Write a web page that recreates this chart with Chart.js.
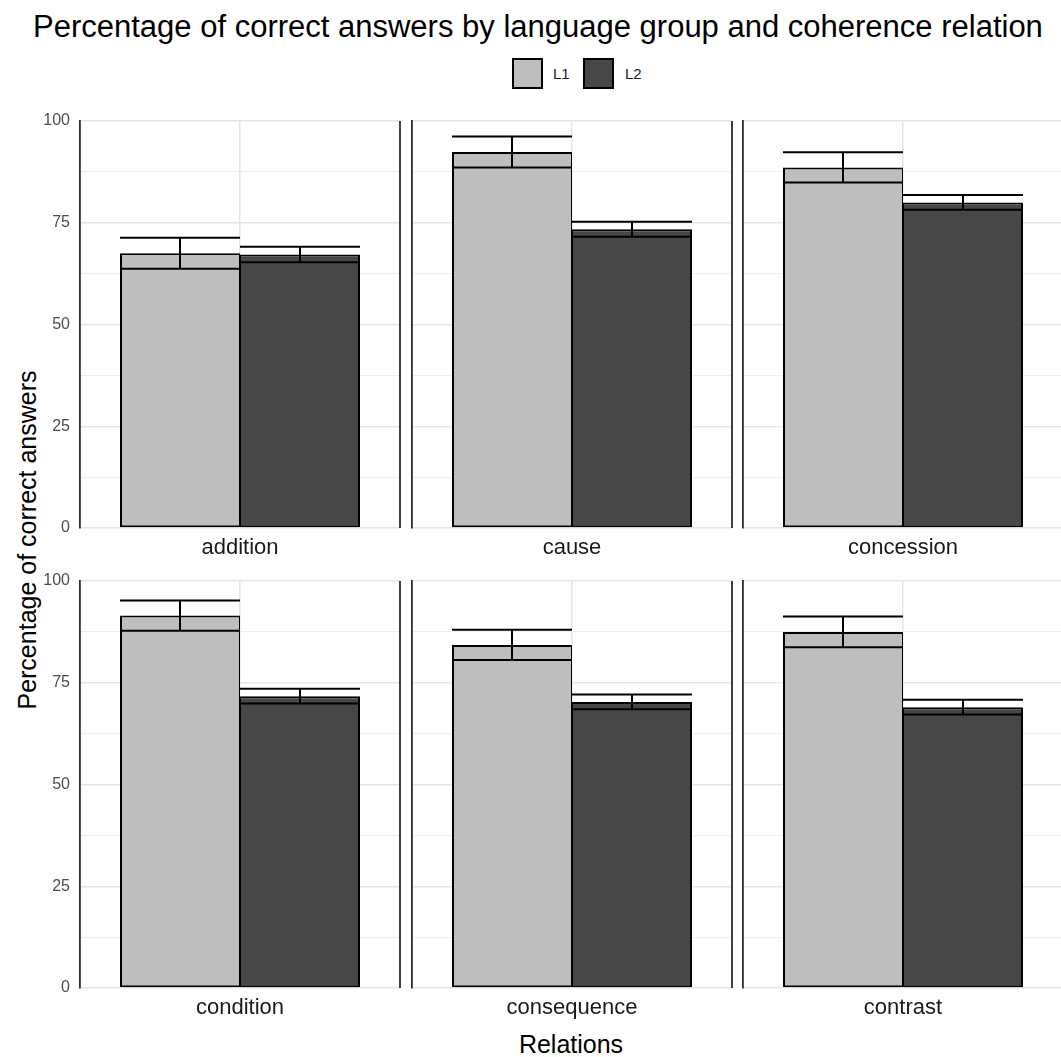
<!DOCTYPE html>
<html>
<head>
<meta charset="utf-8">
<script src="https://cdn.jsdelivr.net/npm/chart.js@4/dist/chart.umd.min.js"></script>
<style>
  html, body { margin: 0; padding: 0; background: #fff; }
  body { width: 1061px; height: 1057px; position: relative; overflow: hidden; font-family: "Liberation Sans", Arial, sans-serif; }
  canvas { position: absolute; }
  .txt { position: absolute; white-space: nowrap; color: #000; }
  .legbox { position: absolute; box-sizing: border-box; border: 2px solid #000; }
</style>
</head>
<body>
<div id="title" class="txt" style="left:33px; width:1000px; top:11px; font-size:31px; line-height:31px; text-align:center;">Percentage of correct answers by language group and coherence relation</div>

<div class="legbox" style="left:512px; top:58px; width:31px; height:31px; background:#bebebe;"></div>
<div class="txt" style="left:553px; top:65px; font-size:15px; line-height:17px; color:#1a1a1a;">L1</div>
<div class="legbox" style="left:583px; top:58px; width:31px; height:31px; background:#474747;"></div>
<div class="txt" style="left:625px; top:65px; font-size:15px; line-height:17px; color:#1a1a1a;">L2</div>

<div class="txt" style="left:27px; top:540px; font-size:25px; line-height:25px; transform: translate(-50%,-50%) rotate(-90deg);">Percentage of correct answers</div>
<div class="txt" style="left:571px; top:1044px; font-size:25px; line-height:25px; transform: translate(-50%,-50%);">Relations</div>

<script>
// ---- data ----
const relations = ['addition', 'cause', 'concession', 'condition', 'consequence', 'contrast'];
const groups = ['L1', 'L2'];
const l1Mean = [67.5, 92.4, 88.6, 91.5, 84.3, 87.5];
const l1Se   = [3.8, 3.8, 3.7, 3.7, 3.7, 3.8];
const l2Mean = [67.2, 73.4, 80.0, 71.7, 70.3, 69.0];
const l2Se   = [1.9, 1.85, 1.8, 1.8, 1.8, 1.8];
const yMajorTicks = [0, 25, 50, 75, 100];
const yMinorTicks = [12.5, 37.5, 62.5, 87.5];

// ---- layout ----
const panelLefts = [80, 412, 743];
const rowTops = [121, 581];
const panelW = 320, panelH = 407;
const yAxisW = 45, xAxisH = 40, padTop = 14, padRight = 4;
const colors = ['#bebebe', '#474747'];

const errorBarPlugin = {
  id: 'errorBars',
  afterDatasetsDraw(chart) {
    const ctx = chart.ctx;
    const ys = chart.scales.y;
    ctx.save();
    ctx.strokeStyle = '#000';
    ctx.lineWidth = 2;
    chart.data.datasets.forEach((ds, i) => {
      const meta = chart.getDatasetMeta(i);
      meta.data.forEach((bar, j) => {
        const m = ds.data[j], e = ds.errors[j];
        const half = bar.width / 2;
        const yHi = ys.getPixelForValue(m + e);
        const yLo = ys.getPixelForValue(m - e);
        ctx.beginPath();
        ctx.moveTo(bar.x - half, yHi); ctx.lineTo(bar.x + half, yHi);
        ctx.moveTo(bar.x - half, yLo); ctx.lineTo(bar.x + half, yLo);
        ctx.moveTo(bar.x, yHi); ctx.lineTo(bar.x, yLo);
        ctx.stroke();
      });
    });
    ctx.restore();
  },
  afterDraw(chart) {
    const a = chart.chartArea;
    const ctx = chart.ctx;
    ctx.save();
    ctx.strokeStyle = '#2b2b2b';
    ctx.lineWidth = 1.8;
    ctx.beginPath();
    ctx.moveTo(a.right, chart.scales.y.getPixelForValue(100));
    ctx.lineTo(a.right, chart.scales.y.getPixelForValue(0));
    ctx.stroke();
    ctx.restore();
  }
};

relations.forEach((rel, idx) => {
  const row = Math.floor(idx / 3), col = idx % 3;
  const cv = document.createElement('canvas');
  const w = yAxisW + panelW + padRight, h = padTop + panelH + xAxisH;
  cv.width = w; cv.height = h;
  cv.style.width = w + 'px'; cv.style.height = h + 'px';
  cv.style.left = (panelLefts[col] - yAxisW) + 'px';
  cv.style.top = (rowTops[row] - padTop) + 'px';
  document.body.appendChild(cv);
  const isLeft = col === 0;
  new Chart(cv, {
    type: 'bar',
    data: {
      labels: [rel],
      datasets: [
        { label: groups[0], data: [l1Mean[idx]], errors: [l1Se[idx]], backgroundColor: colors[0],
          borderColor: '#000', borderWidth: { top: 2, bottom: 2, left: 2, right: 1 }, borderSkipped: false,
          categoryPercentage: 0.75, barPercentage: 1.0 },
        { label: groups[1], data: [l2Mean[idx]], errors: [l2Se[idx]], backgroundColor: colors[1],
          borderColor: '#000', borderWidth: { top: 2, bottom: 2, left: 1, right: 2 }, borderSkipped: false,
          categoryPercentage: 0.75, barPercentage: 1.0 }
      ]
    },
    options: {
      responsive: false,
      animation: false,
      devicePixelRatio: 1,
      layout: { autoPadding: false, padding: { top: padTop, right: padRight, left: 0, bottom: 0 } },
      plugins: { legend: { display: false }, title: { display: false }, tooltip: { enabled: false } },
      scales: {
        x: {
          type: 'category',
          offset: true,
          grid: { offset: false, color: '#e6e6e6', lineWidth: 1.5, drawTicks: false },
          border: { display: false },
          ticks: { color: '#1a1a1a', font: { family: 'Liberation Sans', size: 22 }, padding: 7 },
          afterFit(s) { s.height = xAxisH; s.paddingLeft = 0; s.paddingRight = 0; }
        },
        y: {
          min: 0, max: 100,
          afterBuildTicks(s) {
            s.ticks = yMajorTicks.concat(yMinorTicks).sort((a, b) => a - b).map(v => ({ value: v }));
          },
          grid: {
            drawTicks: false,
            color: (c) => (c.tick && yMajorTicks.includes(c.tick.value)) ? '#e6e6e6' : '#eeeeee',
            lineWidth: (c) => (c.tick && yMajorTicks.includes(c.tick.value)) ? 1.5 : 1
          },
          border: { display: true, color: '#2b2b2b', width: 1.8 },
          ticks: {
            display: isLeft,
            color: '#4d4d4d',
            font: { family: 'Liberation Sans', size: 16 },
            padding: 10,
            callback: (v) => yMajorTicks.includes(v) ? String(v) : ''
          },
          afterFit(s) { s.width = yAxisW; s.paddingTop = 0; s.paddingBottom = 0; }
        }
      }
    },
    plugins: [errorBarPlugin]
  });
});
</script>
</body>
</html>
